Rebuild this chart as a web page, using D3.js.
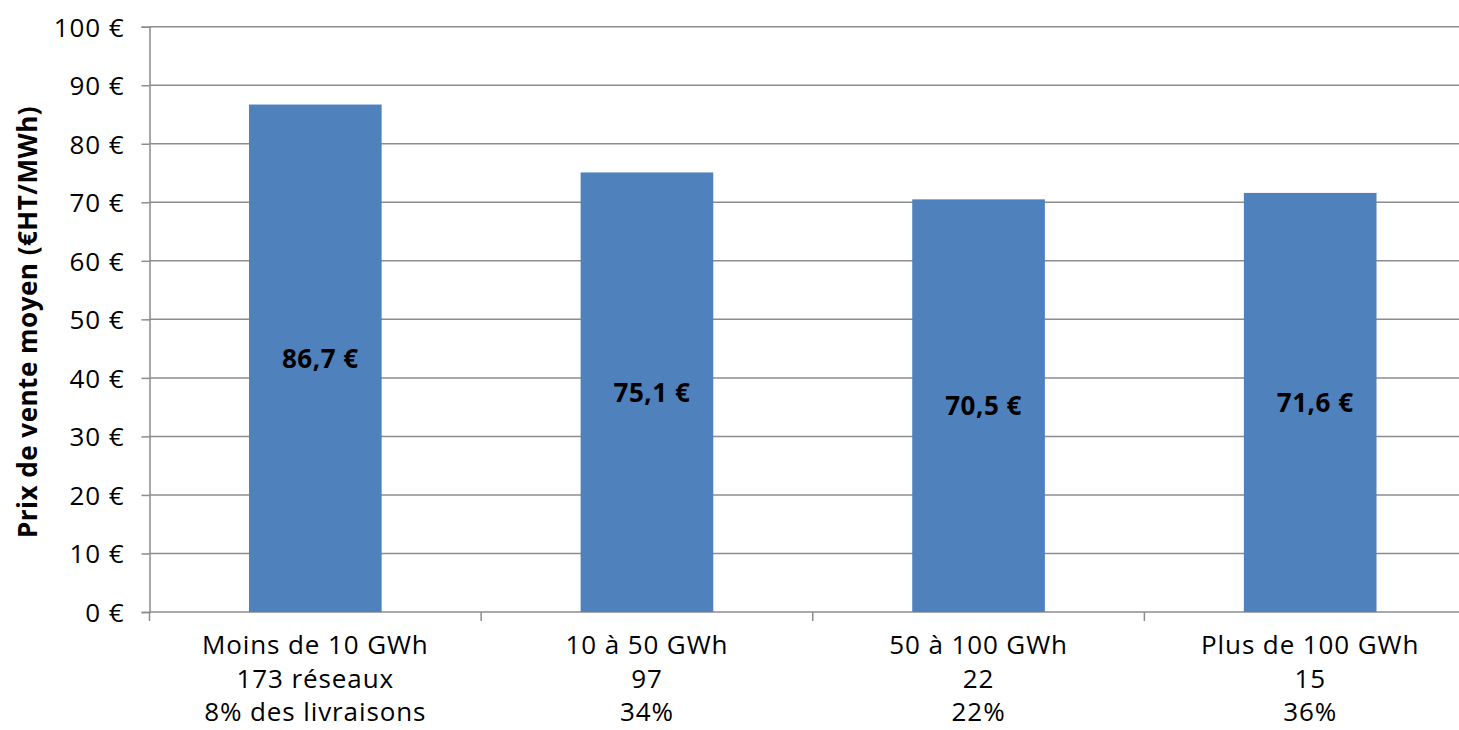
<!DOCTYPE html>
<html><head><meta charset="utf-8">
<script src="https://cdn.jsdelivr.net/npm/d3@7"></script>
<style>body{margin:0;background:#fff;} svg{display:block;font-family:"Open Sans",sans-serif;}</style>
</head><body>
<script>
const categories = ["Moins de 10 GWh", "10 à 50 GWh", "50 à 100 GWh", "Plus de 100 GWh"];
const networks = ["173 réseaux", "97", "22", "15"];
const shares = ["8% des livraisons", "34%", "22%", "36%"];
const values = [86.7, 75.1, 70.5, 71.6];
const valueLabels = ["86,7 €", "75,1 €", "70,5 €", "71,6 €"];
const yTicks = [0, 10, 20, 30, 40, 50, 60, 70, 80, 90, 100];
const yTitle = "Prix de vente moyen (€HT/MWh)";

(function () {
const W = 1459, H = 730;
const FS = 26, LS = "0.9px";
const svg = d3.select("body").append("svg").attr("width", W).attr("height", H);
const mLeft = 149.5, mRight = 1476, mTop = 26.7, mBottom = 612;
const x = d3.scaleBand().domain(categories).range([mLeft, mRight]).paddingInner(0.6).paddingOuter(0.3);
const y = d3.scaleLinear().domain([0, 100]).range([mBottom, mTop]);

// gridlines
svg.append("g").selectAll("line").data(yTicks).join("line")
  .attr("x1", mLeft).attr("x2", W).attr("y1", d => y(d)).attr("y2", d => y(d))
  .attr("stroke", "#8c8c8c").attr("stroke-width", 1.5);

// y axis
const yAxis = d3.axisLeft(y).tickValues(yTicks).tickSize(8).tickPadding(17).tickFormat(d => d + " €");
const gy = svg.append("g").attr("transform", `translate(${mLeft},0)`).call(yAxis);
gy.select(".domain").attr("stroke", "#8c8c8c").attr("stroke-width", 1.5);
gy.selectAll(".tick line").attr("stroke", "#8c8c8c").attr("stroke-width", 1.5);
gy.selectAll(".tick text").attr("font-size", FS).attr("fill", "#000").attr("font-family", "Open Sans")
  .attr("letter-spacing", LS).attr("dy", "0.36em");

// bars
svg.append("g").selectAll("rect").data(values).join("rect")
  .attr("x", (d, i) => x(categories[i])).attr("width", x.bandwidth())
  .attr("y", d => y(d)).attr("height", d => y(0) - y(d))
  .attr("fill", "#4F81BD");

// x axis ticks (between categories)
const bounds = d3.range(categories.length + 1).map(i => mLeft + i * (mRight - mLeft) / categories.length);
svg.append("g").selectAll("line").data(bounds).join("line")
  .attr("x1", d => d).attr("x2", d => d).attr("y1", mBottom).attr("y2", mBottom + 9)
  .attr("stroke", "#8c8c8c").attr("stroke-width", 1.5);

// value labels
svg.append("g").selectAll("text").data(values).join("text")
  .attr("x", (d, i) => x(categories[i]) + x.bandwidth() / 2 + 5)
  .attr("y", d => (y(d) + y(0)) / 2).attr("dy", "0.36em")
  .attr("text-anchor", "middle").attr("font-size", FS).attr("font-weight", "bold")
  .attr("letter-spacing", "0.5px")
  .text((d, i) => valueLabels[i]);

// category labels
const cx = (i) => x(categories[i]) + x.bandwidth() / 2;
const cl = svg.append("g").attr("font-size", FS).attr("text-anchor", "middle").attr("letter-spacing", LS);
const baselines = [654, 688, 721];
[categories, networks, shares].forEach((arr, r) => {
  cl.selectAll(null).data(arr).join("text")
    .attr("x", (d, i) => cx(i)).attr("y", baselines[r]).text(d => d);
});

// y title
svg.append("text").attr("transform", `translate(28,322) rotate(-90)`)
  .attr("text-anchor", "middle").attr("dy", "0.36em").attr("font-size", FS).attr("font-weight", "bold")
  .attr("letter-spacing", "0.5px")
  .text(yTitle);
})();
</script>
</body></html>
